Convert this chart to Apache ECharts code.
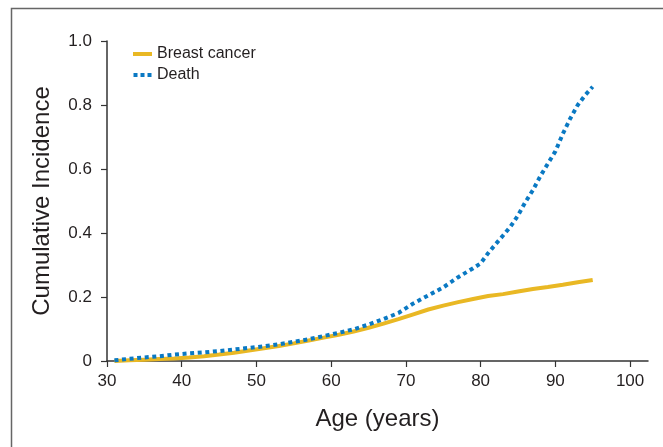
<!DOCTYPE html>
<html>
<head>
<meta charset="utf-8">
<script src="https://cdn.jsdelivr.net/npm/echarts@6/dist/echarts.min.js"></script>
<style>
html,body{margin:0;padding:0;background:#fff;}
#chart{width:663px;height:447px;}
</style>
</head>
<body>
<div id="chart"></div>
<script>
var ages = [31,33,35,37,39,41,43,45,47,49,51,53,55,57,59,61,63,65,67,69,71,73,75,77,79,80,81,82,83,84,85,86,87,88,89,90,91,92,93,94,95];
var deathValues = [0.002,0.007,0.011,0.015,0.020,0.024,0.027,0.031,0.036,0.041,0.046,0.052,0.060,0.068,0.078,0.088,0.099,0.114,0.131,0.150,0.180,0.205,0.230,0.262,0.290,0.305,0.337,0.365,0.392,0.420,0.455,0.497,0.534,0.578,0.617,0.655,0.710,0.758,0.800,0.831,0.857];
var bcAges = [31,33,35,37,39,41,43,45,47,49,51,53,55,57,59,61,63,65,67,69,71,73,75,77,79,81,83,85,87,89,91,93,95];
var bcValues = [0.000,0.002,0.004,0.006,0.008,0.011,0.015,0.020,0.026,0.033,0.040,0.047,0.055,0.064,0.073,0.082,0.092,0.104,0.117,0.131,0.146,0.161,0.173,0.184,0.194,0.203,0.209,0.217,0.225,0.231,0.238,0.246,0.253];
var xTicks = [30,40,50,60,70,80,90,100];
var seriesNames = ['Breast cancer','Death'];

var FONT = '"Liberation Sans", Arial, sans-serif';
var YELLOW = '#E9B824', BLUE = '#0A79C3';
var chart = echarts.init(document.getElementById('chart'), null, {renderer:'canvas'});

function pairs(xs, ys){ return xs.map(function(x,i){ return [x, ys[i]]; }); }

chart.setOption({
  backgroundColor:'#fff',
  animation:false,
  graphic:[{
    type:'polyline',
    shape:{points:[[11.5,470],[11.5,8.5],[700,8.5]]},
    style:{stroke:'#666',lineWidth:1.5,fill:null},
    silent:true
  }],
  grid:{left:107, right:15, top:41, bottom:86, containLabel:false},
  legend:{
    orient:'vertical', left:128, top:41, itemWidth:19, itemHeight:4, itemGap:5,
    textStyle:{fontFamily:FONT,fontSize:16,color:'#231f20',lineHeight:16},
    data:[
      {name:seriesNames[0], icon:'rect', itemStyle:{color:YELLOW, borderWidth:0}},
      {name:seriesNames[1], icon:'path://M0,0h4v4h-4zM7,0h4v4h-4zM14,0h4v4h-4z', itemStyle:{color:BLUE, borderWidth:0}}
    ]
  },
  xAxis:{
    type:'value', min:30, max:102.4, interval:10,
    name:'Age (years)', nameLocation:'middle', nameGap:46,
    nameTextStyle:{fontFamily:FONT,fontSize:24,color:'#231f20'},
    axisLine:{show:true,lineStyle:{color:'#333',width:1.5}},
    axisTick:{show:true,length:6,lineStyle:{color:'#333',width:1.2},customValues:xTicks},
    axisLabel:{fontFamily:FONT,fontSize:17,color:'#231f20',margin:12,customValues:xTicks},
    splitLine:{show:false}
  },
  yAxis:{
    type:'value', min:0, max:1.0, interval:0.2,
    name:'Cumulative Incidence', nameLocation:'middle', nameGap:53, nameRotate:90,
    nameTextStyle:{fontFamily:FONT,fontSize:24,color:'#231f20'},
    axisLine:{show:true,lineStyle:{color:'#333',width:1.5}},
    axisTick:{show:true,length:6,lineStyle:{color:'#333',width:1.2}},
    axisLabel:{fontFamily:FONT,fontSize:17,color:'#231f20',margin:15,
      formatter:function(v){ return v===0 ? '0' : v.toFixed(1); }},
    splitLine:{show:false}
  },
  series:[
    {name:seriesNames[0], type:'line', data:pairs(bcAges,bcValues), symbol:'none', smooth:false,
     lineStyle:{color:YELLOW,width:4}, itemStyle:{color:YELLOW}, z:2},
    {name:seriesNames[1], type:'line', data:pairs(ages,deathValues), symbol:'none', smooth:false,
     lineStyle:{color:BLUE,width:4,type:[4,3.6],cap:'butt'}, itemStyle:{color:BLUE}, z:3}
  ]
});
</script>
</body>
</html>
